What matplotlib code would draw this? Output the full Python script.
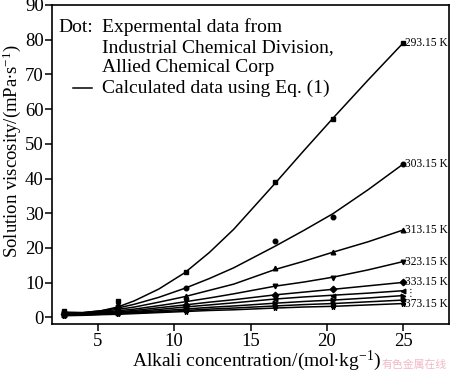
import matplotlib
matplotlib.use("Agg")
import matplotlib.pyplot as plt

plt.rcParams['font.family'] = ['Liberation Serif', 'DejaVu Serif']
plt.rcParams['mathtext.fontset'] = 'custom'
plt.rcParams['mathtext.rm'] = 'Liberation Serif'
plt.rcParams['mathtext.it'] = 'Liberation Serif:italic'

temps = ["293.15 K", "303.15 K", "313.15 K", "323.15 K", "333.15 K",
         "343.15 K", "353.15 K", "363.15 K", "373.15 K"]
markers = ['s', 'o', '^', 'v', 'D', '<', '>', 'h', '*']
show_label = [True, True, True, True, True, False, False, False, True]

x_exp = [2.8, 6.3, 10.8, 16.6, 20.4, 25.0]
y_exp = [
    [1.8, 4.6, 13.2, 39.0, 57.1, 79.1],
    [1.5, 3.3, 8.6, 22.0, 29.0, 44.2],
    [1.3, 2.6, 6.1, 14.1, 18.8, 25.2],
    [1.1, 2.2, 4.6, 9.0, 11.5, 16.1],
    [1.0, 1.9, 3.7, 6.5, 8.1, 10.1],
    [0.8, 1.6, 3.1, 5.4, 6.3, 7.7],
    [0.7, 1.4, 2.5, 4.1, 4.9, 6.3],
    [0.6, 1.2, 2.0, 3.4, 3.9, 5.0],
    [0.5, 1.0, 1.7, 2.7, 3.0, 4.0],
]

x_calc = [2.8, 4.0, 5.2, 6.3, 7.4, 9.0, 10.7, 12.3, 13.9, 16.6, 18.5, 20.4, 22.7, 25.0]
y_calc = [
    [1.5, 1.4, 1.9, 3.0, 4.8, 8.2, 12.9, 18.7, 25.4, 38.6, 48.1, 57.4, 68.4, 79.1],
    [1.4, 1.35, 1.9, 2.7, 3.8, 5.8, 8.4, 11.2, 14.3, 20.5, 25.1, 29.9, 36.8, 44.2],
    [1.2, 1.25, 1.7, 2.3, 3.0, 4.4, 6.0, 7.8, 9.6, 13.8, 16.2, 18.8, 21.8, 25.2],
    [1.0, 1.1, 1.5, 1.9, 2.4, 3.4, 4.5, 5.6, 6.8, 9.0, 10.2, 11.6, 13.7, 16.1],
    [0.9, 1.0, 1.3, 1.6, 2.0, 2.8, 3.6, 4.4, 5.1, 6.5, 7.3, 8.1, 9.1, 10.1],
    [0.8, 0.9, 1.1, 1.4, 1.7, 2.3, 3.0, 3.6, 4.2, 5.3, 5.9, 6.4, 7.0, 7.7],
    [0.7, 0.8, 1.0, 1.2, 1.5, 1.9, 2.4, 2.9, 3.3, 4.1, 4.6, 5.0, 5.6, 6.3],
    [0.6, 0.7, 0.9, 1.1, 1.3, 1.6, 2.0, 2.4, 2.7, 3.3, 3.7, 4.0, 4.5, 5.0],
    [0.5, 0.6, 0.8, 0.9, 1.1, 1.4, 1.7, 2.0, 2.2, 2.7, 3.0, 3.2, 3.6, 4.0],
]

x_ticks = [5, 10, 15, 20, 25]
y_ticks = [0, 10, 20, 30, 40, 50, 60, 70, 80, 90]

legend_dot = ["Expermental data from", "Industrial Chemical Division,", "Allied Chemical Corp"]
legend_line = "Calculated data using Eq. (1)"

fig = plt.figure(figsize=(4.5, 3.75), dpi=100)
ax = fig.add_axes([0.1156, 0.135, 0.8824, 0.8517])

for i in range(len(temps)):
    ax.plot(x_calc, y_calc[i], color='black', lw=1.1, zorder=2)
    ax.plot(x_exp, y_exp[i], linestyle='none', marker=markers[i], color='black',
            markersize=3.3, zorder=3)
    if show_label[i]:
        ax.text(x_exp[-1] + 0.1, y_exp[i][-1], temps[i], fontsize=8.3,
                ha='left', va='center')

ax.text(25.15, 6.9, "\u22ee", fontsize=7, ha='left', va='center', family='DejaVu Sans')

ax.set_xlim(2, 28)
ax.set_ylim(-2, 90)
ax.set_xticks(x_ticks)
ax.set_yticks(y_ticks)
ax.tick_params(direction='out', length=5, width=1.1, labelsize=13.5, pad=1,
               top=False, right=False)
for s in ax.spines.values():
    s.set_linewidth(1.2)

ax.set_xlabel(r"Alkali concentration/(mol$\bullet$kg$^{-1}$)", fontsize=14)
ax.xaxis.label.set_va('center')
ax.xaxis.set_label_coords(0.515, -0.113)
ax.set_ylabel(r"Solution viscosity/(mPa$\bullet$s$^{-1}$)", fontsize=13.5)
ax.yaxis.label.set_va('center')
ax.yaxis.set_label_coords(-0.101, 0.543)

# legend drawn as text block
ys = [0.931, 0.868, 0.803]
ax.text(0.015, ys[0], "Dot:", transform=ax.transAxes, fontsize=14, ha='left', va='center')
for yy, t in zip(ys, legend_dot):
    ax.text(0.126, yy, t, transform=ax.transAxes, fontsize=14, ha='left', va='center')
ax.plot([0.052, 0.100], [0.740, 0.740], color='black', lw=1.1, transform=ax.transAxes)
ax.text(0.126, 0.740, legend_line, transform=ax.transAxes, fontsize=14,
        ha='left', va='center')

fig.text(0.993, 0.027, "有色金属在线", fontsize=7.8, color='#f2b8c4', ha='right',
         va='center', family=['Noto Sans CJK SC', 'DejaVu Sans'])

fig.savefig("out.png", dpi=100)
